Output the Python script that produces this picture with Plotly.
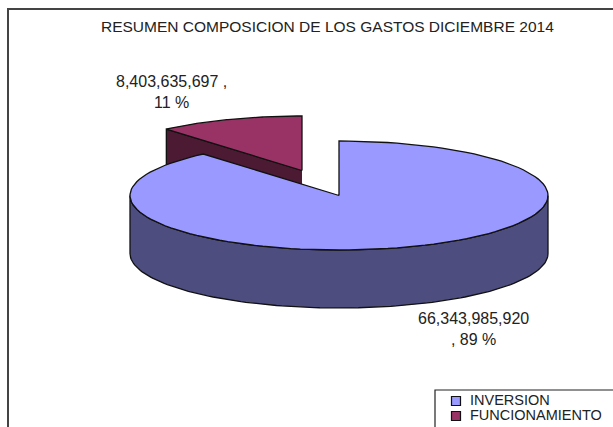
import numpy as np
import plotly.graph_objects as go

# data
categories = ["INVERSION", "FUNCIONAMIENTO"]
values = [66343985920, 8403635697]
value_labels = ["66,343,985,920", "8,403,635,697"]
pct_labels = ["89 %", "11 %"]
title_text = "RESUMEN COMPOSICION DE LOS GASTOS DICIEMBRE 2014"

# styles / projection of the tilted pie in pixel space
top_colors = ["#9999FF", "#993366"]
side_colors = ["#4D4D80", "#4D1A33"]
CX, CY, RX, RY, DEPTH = 339, 195.5, 209, 54.5, 58
EXPLODE = (-37, -25)
W, H = 613, 427
LEGEND_X, LEGEND_Y, LEGEND_ROW, LEGEND_GAP = 456, 401, 15, 14

total = sum(values)
sweep = [v / total * 2 * np.pi for v in values]


def rim(a0, a1, dx=0, dy=0, n=120):
    t = np.linspace(a0, a1, n)
    return CX + dx + RX * np.sin(t), CY + dy - RY * np.cos(t)


def poly(x, y, color):
    return go.Scatter(
        x=list(x), y=list(y), mode="lines", fill="toself", fillcolor=color,
        line=dict(color="#111111", width=1.3), showlegend=False, hoverinfo="skip",
    )


fig = go.Figure()
a_split = sweep[0]
ex, ey = EXPLODE

# exploded small slice: cut face, then top
rx, ry = rim(a_split, a_split, ex, ey, 1)
fig.add_trace(poly([CX + ex, rx[0], rx[0], CX + ex], [CY + ey, ry[0], ry[0] + DEPTH, CY + ey + DEPTH], side_colors[1]))
x, y = rim(a_split, 2 * np.pi, ex, ey)
fig.add_trace(poly(np.r_[CX + ex, x, CX + ex], np.r_[CY + ey, y, CY + ey], top_colors[1]))

# large slice: outer wall, then top
x, y = rim(np.pi / 2, 3 * np.pi / 2)
fig.add_trace(poly(np.r_[x, x[::-1], x[0]], np.r_[y, y[::-1] + DEPTH, y[0]], side_colors[0]))
x, y = rim(0, a_split)
fig.add_trace(poly(np.r_[CX, x, CX], np.r_[CY, y, CY], top_colors[0]))

# legend entries
rows = [LEGEND_Y + i * LEGEND_ROW for i in range(len(categories))]
fig.add_trace(go.Scatter(
    x=[LEGEND_X] * len(categories), y=rows, mode="markers",
    marker=dict(symbol="square", size=9, color=top_colors, line=dict(color="#111111", width=1.2)),
    showlegend=False, hoverinfo="skip", cliponaxis=False,
))
fig.add_trace(go.Scatter(
    x=[LEGEND_X + LEGEND_GAP] * len(categories), y=rows, mode="text", text=categories,
    textposition="middle right",
    textfont=dict(family="Liberation Sans", size=14.5, color="#222222"),
    showlegend=False, hoverinfo="skip", cliponaxis=False,
))

title_font = dict(family="Liberation Sans", size=15.5, color="#222222")
font = dict(family="Liberation Sans", size=16, color="#222222")
annotations = [
    dict(x=327, y=26.5, text=title_text, showarrow=False, font=title_font),
    dict(x=171, y=92, text=f"{value_labels[1]} ,<br>{pct_labels[1]}", showarrow=False, font=font),
    dict(x=473, y=329, text=f"{value_labels[0]}<br>, {pct_labels[0]}", showarrow=False, font=font),
]
shapes = [
    dict(type="rect", x0=8, y0=9, x1=W + 10, y1=H + 10, line=dict(color="#444444", width=2), layer="below"),
    dict(type="rect", x0=435, y0=390, x1=W + 10, y1=H + 10, line=dict(color="#222222", width=1.2), layer="below"),
]
fig.update_layout(
    width=W, height=H, margin=dict(l=0, r=0, t=0, b=0, autoexpand=False),
    paper_bgcolor="white", plot_bgcolor="white",
    xaxis=dict(range=[0, W], visible=False, fixedrange=True),
    yaxis=dict(range=[H, 0], visible=False, fixedrange=True),
    showlegend=False,
    annotations=annotations, shapes=shapes,
)
fig.write_html("out.html", config={"displayModeBar": False}, post_script="document.body.style.margin='0';")
